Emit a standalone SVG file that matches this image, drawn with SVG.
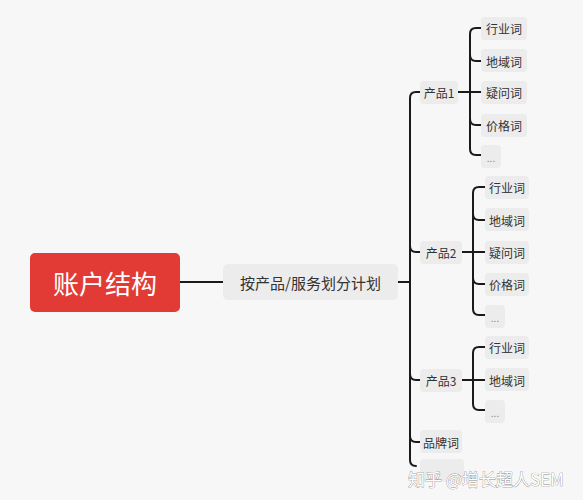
<svg xmlns="http://www.w3.org/2000/svg" width="583" height="500" viewBox="0 0 583 500">
<style>
.bg{fill:#f7f7f7}
.box{fill:#ececec}
.t{font-family:"Noto Sans CJK SC","Noto Sans",sans-serif;fill:#333;font-size:12px;dominant-baseline:central}
.c{fill:none;stroke:#1a1a1a;stroke-width:2;stroke-linecap:round}
</style>
<rect class="bg" x="0" y="0" width="583" height="500"/>
<g id="connectors">
<path class="c" d="M180 282H223"/>
<path class="c" d="M398 282H410"/>
<path class="c" d="M422 92H416Q410 92 410 98V460Q410 466 416 466"/>
<path class="c" d="M410 246Q410 252 416 252H422"/>
<path class="c" d="M410 374Q410 380 416 380H422"/>
<path class="c" d="M410 436Q410 442 416 442H422"/>
<path class="c" d="M458 92H470"/>
<path class="c" d="M481 28H476Q470 28 470 34V149Q470 155 476 155H481"/>
<path class="c" d="M470 55Q470 61 476 61H481"/>
<path class="c" d="M470 92H481"/>
<path class="c" d="M470 119Q470 125 476 125H481"/>
<path class="c" d="M462 252H473"/>
<path class="c" d="M486 187H479Q473 187 473 193V309Q473 315 479 315H486"/>
<path class="c" d="M473 214Q473 220 479 220H486"/>
<path class="c" d="M473 252H486"/>
<path class="c" d="M473 278Q473 284 479 284H486"/>
<path class="c" d="M462 380H473"/>
<path class="c" d="M486 347H479Q473 347 473 353V404Q473 410 479 410H486"/>
<path class="c" d="M473 380H486"/>
</g>
<g id="root">
<rect x="30" y="253" width="150" height="59" rx="5" fill="#e23b36"/>
<text x="105" y="282" text-anchor="middle" style="font-family:'Noto Sans CJK SC',sans-serif;font-size:26px;fill:#fff;dominant-baseline:central">账户结构</text>
</g>
<g id="plan">
<rect class="box" x="223" y="264" width="175" height="36" rx="5"/>
<text class="t" x="310.5" y="282" text-anchor="middle" style="font-size:15px">按产品/服务划分计划</text>
</g>
<g id="p1">
<rect class="box" x="420" y="81" width="38" height="23" rx="4"/>
<text class="t" x="439" y="92" text-anchor="middle">产品1</text>
</g>
<g id="p1a"><rect class="box" x="481" y="17" width="46" height="23" rx="4"/><text class="t" x="504" y="28" text-anchor="middle">行业词</text></g>
<g id="p1b"><rect class="box" x="481" y="49" width="46" height="23" rx="4"/><text class="t" x="504" y="61" text-anchor="middle">地域词</text></g>
<g id="p1c"><rect class="box" x="481" y="81" width="46" height="23" rx="4"/><text class="t" x="504" y="92" text-anchor="middle">疑问词</text></g>
<g id="p1d"><rect class="box" x="481" y="114" width="46" height="23" rx="4"/><text class="t" x="504" y="125" text-anchor="middle">价格词</text></g>
<g id="p1e"><rect class="box" x="481" y="145" width="20" height="23" rx="4"/><text class="t" x="491" y="157" text-anchor="middle" style="fill:#888;font-size:10px">...</text></g>
<g id="p2">
<rect class="box" x="420" y="241" width="42" height="23" rx="4"/>
<text class="t" x="441" y="252" text-anchor="middle">产品2</text>
</g>
<g id="p2a"><rect class="box" x="485" y="176" width="44" height="23" rx="4"/><text class="t" x="507" y="187" text-anchor="middle">行业词</text></g>
<g id="p2b"><rect class="box" x="485" y="208" width="44" height="23" rx="4"/><text class="t" x="507" y="220" text-anchor="middle">地域词</text></g>
<g id="p2c"><rect class="box" x="485" y="241" width="44" height="23" rx="4"/><text class="t" x="507" y="252" text-anchor="middle">疑问词</text></g>
<g id="p2d"><rect class="box" x="485" y="273" width="44" height="23" rx="4"/><text class="t" x="507" y="284" text-anchor="middle">价格词</text></g>
<g id="p2e"><rect class="box" x="485" y="305" width="20" height="23" rx="4"/><text class="t" x="495" y="317" text-anchor="middle" style="fill:#888;font-size:10px">...</text></g>
<g id="p3">
<rect class="box" x="420" y="369" width="42" height="23" rx="4"/>
<text class="t" x="441" y="380" text-anchor="middle">产品3</text>
</g>
<g id="p3a"><rect class="box" x="485" y="336" width="44" height="23" rx="4"/><text class="t" x="507" y="347" text-anchor="middle">行业词</text></g>
<g id="p3b"><rect class="box" x="485" y="368" width="44" height="23" rx="4"/><text class="t" x="507" y="380" text-anchor="middle">地域词</text></g>
<g id="p3e"><rect class="box" x="485" y="400" width="20" height="23" rx="4"/><text class="t" x="495" y="412" text-anchor="middle" style="fill:#888;font-size:10px">...</text></g>
<g id="brand">
<rect class="box" x="420" y="430" width="42" height="23" rx="4"/>
<text class="t" x="441" y="442" text-anchor="middle">品牌词</text>
</g>
<g id="hidden"><rect class="box" x="420" y="459" width="44" height="23" rx="4"/></g>
<g id="watermark">
<text x="408" y="478" style="font-family:'Noto Sans CJK SC',sans-serif;font-size:17px;fill:#fff;stroke:#8a8a8a;stroke-width:0.7;paint-order:stroke;dominant-baseline:central">知乎 @增长超人SEM</text>
</g>
</svg>
